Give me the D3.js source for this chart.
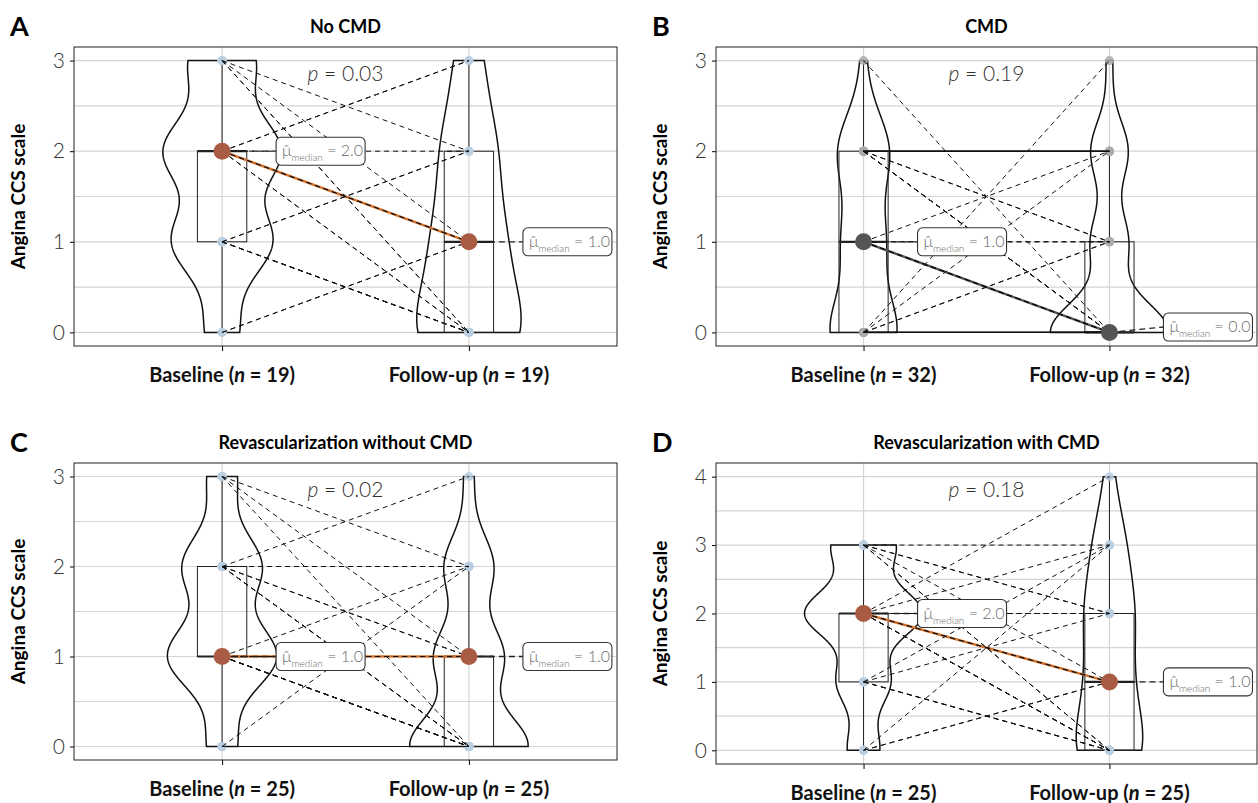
<!DOCTYPE html>
<html>
<head>
<meta charset="utf-8">
<script src="https://cdn.jsdelivr.net/npm/d3@7"></script>
<style>
    body { margin: 0; background: #fff; }
    svg { font-family: Lato, "Open Sans", sans-serif; }
</style>
</head>
<body>
<svg></svg>
<script>
const width = 1258;
const height = 803;

// данные панелей
const panelLetters = ["A", "B", "C", "D"];
const panelTitles = ["No CMD", "CMD", "Revascularization without CMD", "Revascularization with CMD"];
const sampleSizes = [19, 32, 25, 25];
const pValues = ["0.03", "0.19", "0.02", "0.18"];
const yMaxValues = [3, 3, 3, 4];
const conditions = ["Baseline", "Follow-up"];

// пары наблюдений: [baseline, follow-up, число пациентов]
const pairsA = [[0, 1, 2], [1, 2, 2], [1, 0, 4], [2, 3, 2], [2, 2, 1], [2, 1, 2], [2, 0, 2], [3, 2, 1], [3, 1, 1], [3, 0, 2]];
const pairsB = [[0, 0, 9], [0, 1, 2], [0, 2, 1], [0, 3, 1], [1, 0, 5], [1, 1, 2], [1, 2, 1], [2, 0, 4], [2, 1, 2], [2, 2, 4], [3, 0, 1]];
const pairsC = [[0, 0, 2], [0, 2, 1], [1, 2, 1], [1, 1, 4], [1, 0, 6], [2, 3, 1], [2, 2, 2], [2, 1, 2], [2, 0, 3], [3, 2, 1], [3, 1, 1], [3, 0, 1]];
const pairsD = [[0, 3, 1], [0, 1, 2], [1, 3, 1], [1, 2, 1], [1, 0, 3], [2, 4, 1], [2, 3, 1], [2, 2, 3], [2, 1, 2], [2, 0, 4], [3, 3, 1], [3, 2, 2], [3, 1, 1], [3, 0, 2]];
const allPairs = [pairsA, pairsB, pairsC, pairsD];

// стили
const pointColors = ["#b9cedf", "#aaaaaa", "#b9cedf", "#b9cedf"];
const medianColors = ["#a95b43", "#555555", "#a95b43", "#a95b43"];
const medianLineColors = ["#d3732f", "#555555", "#d3732f", "#d3732f"];
const solidPairs = [[], ["0-0", "2-2"], ["0-0"], []];
const frames = [
    { left: 74, right: 617, top: 47, bottom: 346 },
    { left: 716, right: 1257, top: 47, bottom: 346 },
    { left: 74, right: 617, top: 463, bottom: 760 },
    { left: 716, right: 1257, top: 463, bottom: 764 }
];

let svg = d3.select("svg")
    .attr("width", width)
    .attr("height", height);

// ядерная оценка плотности (gaussian, bw = nrd0), обрезанная по диапазону
function density(values) {
    const n = values.length;
    const sd = d3.deviation(values);
    const iqr = d3.quantile(values, 0.75) - d3.quantile(values, 0.25);
    const bw = 0.9 * Math.min(sd, iqr / 1.34) * Math.pow(n, -0.2);
    const [lo, hi] = d3.extent(values);
    return d3.range(0, 301).map(i => {
        const y = lo + (hi - lo) * i / 300;
        const d = d3.sum(values, v => Math.exp(-0.5 * ((y - v) / bw) ** 2)) / (n * bw * Math.sqrt(2 * Math.PI));
        return { y: y, d: d };
    });
}

function boxStats(values) {
    const q1 = d3.quantile(values, 0.25);
    const q3 = d3.quantile(values, 0.75);
    const iqr = q3 - q1;
    return {
        q1: q1, q3: q3, med: d3.median(values),
        lo: d3.min(values.filter(v => v >= q1 - 1.5 * iqr)),
        hi: d3.max(values.filter(v => v <= q3 + 1.5 * iqr))
    };
}

function drawPanel(k) {
    const f = frames[k];
    const pairs = allPairs[k];
    const g = svg.append("g");

    const x = d3.scaleLinear().domain([0.4, 2.6]).range([f.left, f.right]);
    const yMax = yMaxValues[k];
    const pad = yMax * 0.05;
    const y = d3.scaleLinear().domain([-pad, yMax + pad]).range([f.bottom, f.top]);

    // отдельные пациенты
    let subjects = [];
    pairs.forEach(p => d3.range(p[2]).forEach(() => subjects.push({ b: p[0], f: p[1] })));
    const groups = [subjects.map(s => s.b), subjects.map(s => s.f)];

    // сетка
    const grid = g.append("g").style("stroke", "#d4d4d4").style("stroke-width", 1.2);
    d3.range(0, yMax + 0.01, 0.5).forEach(v => {
        grid.append("line").attr("x1", f.left).attr("x2", f.right).attr("y1", y(v)).attr("y2", y(v));
    });
    [1, 2].forEach(c => {
        grid.append("line").attr("x1", x(c)).attr("x2", x(c)).attr("y1", f.top).attr("y2", f.bottom);
    });

    // скрипки (scale = "area")
    const dens = groups.map(density);
    const maxD = d3.max(dens, ds => d3.max(ds, d => d.d));
    const halfW = x(1.24) - x(1);
    dens.forEach((ds, i) => {
        const cx = x(i + 1);
        const area = d3.area()
            .y(d => y(d.y))
            .x0(d => cx - d.d / maxD * halfW)
            .x1(d => cx + d.d / maxD * halfW);
        g.append("path").attr("d", area(ds))
            .style("fill", "none").style("stroke", "#111").style("stroke-width", 1.5);
    });

    // боксплоты
    const stats = groups.map(boxStats);
    const boxW = x(1.1) - x(1);
    stats.forEach((s, i) => {
        const cx = x(i + 1);
        const box = g.append("g").style("stroke", "#222").style("stroke-width", 1).style("fill", "none");
        box.append("line").attr("x1", cx).attr("x2", cx).attr("y1", y(s.q3)).attr("y2", y(s.hi));
        box.append("line").attr("x1", cx).attr("x2", cx).attr("y1", y(s.q1)).attr("y2", y(s.lo));
        box.append("rect").attr("x", cx - boxW).attr("width", 2 * boxW)
            .attr("y", y(s.q3)).attr("height", y(s.q1) - y(s.q3));
        box.append("line").attr("x1", cx - boxW).attr("x2", cx + boxW)
            .attr("y1", y(s.med)).attr("y2", y(s.med)).style("stroke-width", 2.2);
    });

    // точки наблюдений
    groups.forEach((vals, i) => {
        g.selectAll(null).data(vals).enter().append("circle")
            .attr("cx", x(i + 1)).attr("cy", d => y(d)).attr("r", 4.5)
            .style("fill", pointColors[k]).style("opacity", 0.85);
    });

    // линия медиан
    g.append("line")
        .attr("x1", x(1)).attr("y1", y(stats[0].med))
        .attr("x2", x(2)).attr("y2", y(stats[1].med))
        .style("stroke", medianLineColors[k]).style("stroke-width", 2.5);

    // парные линии
    g.selectAll(null).data(subjects).enter().append("line")
        .attr("x1", x(1)).attr("y1", d => y(d.b))
        .attr("x2", x(2)).attr("y2", d => y(d.f))
        .style("stroke", "#111").style("stroke-width", 1)
        .style("stroke-dasharray", d => solidPairs[k].includes(d.b + "-" + d.f) ? null : "5,4");

    // медианы и подписи
    stats.forEach((s, i) => {
        const cx = x(i + 1);
        const cy = y(s.med);
        let ly = Math.min(cy, f.bottom - 19);
        g.append("line").attr("x1", cx).attr("y1", cy).attr("x2", cx + 54).attr("y2", ly)
            .style("stroke", "#222").style("stroke-width", 1.3).style("stroke-dasharray", "6,4");
        g.append("circle").attr("cx", cx).attr("cy", cy).attr("r", 8.5).style("fill", medianColors[k]);
        const lab = g.append("g").attr("transform", `translate(${cx + 54}, ${ly})`);
        lab.append("rect").attr("x", 0).attr("y", -14).attr("width", 89).attr("height", 28).attr("rx", 5)
            .style("fill", "#fff").style("stroke", "#333").style("stroke-width", 1.1);
        const t = lab.append("text").attr("x", 6).attr("y", 5).style("fill", "#6a6a6a").style("font-size", "16px").style("font-weight", 300);
        t.append("tspan").text("\u03bc\u0302");
        t.append("tspan").attr("dy", 5).style("font-size", "10px").text("median");
        t.append("tspan").attr("dy", -5).text(" = " + d3.format(".1f")(s.med));
    });

    // оси
    const yAxis = g.append("g").attr("transform", `translate(${f.left}, 0)`)
        .call(d3.axisLeft(y).tickValues(d3.range(0, yMax + 1)).tickFormat(d3.format("d")).tickSize(4).tickPadding(5));
    yAxis.select(".domain").remove();
    yAxis.selectAll("text").style("font-size", "21px").style("font-weight", 300).style("fill", "#333")
        .style("font-family", "Lato, sans-serif");
    const xAxis = g.append("g").attr("transform", `translate(0, ${f.bottom})`)
        .call(d3.axisBottom(x).tickValues([1, 2]).tickSize(5).tickFormat(""));
    xAxis.select(".domain").remove();

    conditions.forEach((c, i) => {
        const t = g.append("text").attr("x", x(i + 1)).attr("y", f.bottom + 36)
            .attr("text-anchor", "middle").style("font-size", "20px").style("font-weight", 700).style("fill", "#111");
        t.append("tspan").text(c + " (");
        t.append("tspan").style("font-style", "italic").text("n");
        t.append("tspan").text(" = " + sampleSizes[k] + ")");
    });

    // рамка
    g.append("rect").attr("x", f.left).attr("y", f.top)
        .attr("width", f.right - f.left).attr("height", f.bottom - f.top)
        .style("fill", "none").style("stroke", "#222").style("stroke-width", 1);

    // p-value
    const pt = g.append("text").attr("x", (f.left + f.right) / 2).attr("y", y(yMax) + 20)
        .attr("text-anchor", "middle").style("font-size", "21px").style("font-weight", 300).style("fill", "#333");
    pt.append("tspan").style("font-style", "italic").text("p");
    pt.append("tspan").text(" = " + pValues[k]);

    // заголовки
    g.append("text").attr("x", (f.left + f.right) / 2).attr("y", f.top - 14)
        .attr("text-anchor", "middle").style("font-size", "18px").style("font-weight", 700).text(panelTitles[k]);
    g.append("text").attr("x", f.left - 64).attr("y", f.top - 11)
        .style("font-size", "27px").style("font-weight", 700).text(panelLetters[k]);
    g.append("text").attr("transform", `translate(${f.left - 49}, ${(f.top + f.bottom) / 2}) rotate(-90)`)
        .attr("text-anchor", "middle").style("font-size", "19px").style("font-weight", 700).text("Angina CCS scale");
}

panelLetters.forEach((p, k) => drawPanel(k));
</script>
</body>
</html>
